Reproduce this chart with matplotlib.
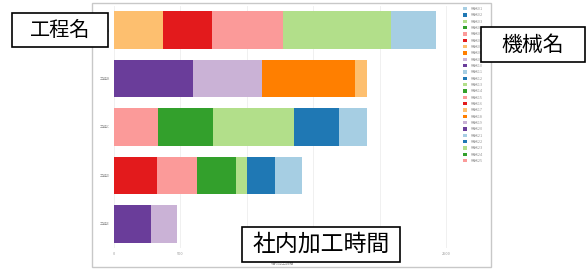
import matplotlib
matplotlib.use("Agg")
import matplotlib.pyplot as plt
from matplotlib.patches import Rectangle, Patch

plt.rcParams['font.family'] = ['Noto Sans CJK JP', 'DejaVu Sans']

# ---- data ----
processes = ['工程A', '工程B', '工程C', '工程D', '工程E']
machines = ['機械01', '機械02', '機械03', '機械04', '機械05', '機械06', '機械07',
            '機械08', '機械09', '機械10', '機械11', '機械12', '機械13', '機械14',
            '機械15', '機械16', '機械17', '機械18', '機械19', '機械20', '機械21',
            '機械22', '機械23', '機械24', '機械25']
palette = ['#a6cee3', '#1f78b4', '#b2df8a', '#33a02c', '#fb9a99',
           '#e31a1c', '#fdbf6f', '#ff7f00', '#cab2d6', '#6a3d9a']
proc_machines = [
    [0, 2, 4, 5, 6],
    [16, 17, 18, 19],
    [20, 21, 22, 23, 24],
    [10, 11, 12, 13, 14, 15],
    [8, 9],
]
proc_hours = [
    [339, 813, 535, 369, 369],
    [90, 700, 520, 595],
    [211, 339, 610, 414, 331],
    [203, 211, 83, 294, 301, 324],
    [196, 279],
]
xticks = [0, 500, 1000, 1500, 2000, 2500]
# tick labels hidden under the annotation box in the reference
xticklabels = ['0', '500', '', '', '', '2500']

W, H = 586, 269
fig = plt.figure(figsize=(W / 100, H / 100), dpi=100)

def fx(px):
    return px / W

def fy(py):
    return 1 - py / H

# embedded chart frame
fig.add_artist(Rectangle((fx(92), fy(267)), fx(491) - fx(92), fy(3) - fy(267),
                         transform=fig.transFigure, facecolor='white',
                         edgecolor='#c8c8c8', lw=1.0, zorder=0))

ax = fig.add_axes([fx(114), fy(248), fx(452) - fx(114), fy(6) - fy(248)])
ax.set_facecolor('white')
for s in ax.spines.values():
    s.set_visible(False)

for r, (ms, hs) in enumerate(zip(proc_machines, proc_hours)):
    pairs = sorted(zip(ms, hs), key=lambda p: -p[0])
    left = 0
    for m, h in pairs:
        ax.barh(r, h, left=left, height=0.78, color=palette[m % 10], lw=0, zorder=2)
        left += h

ax.set_ylim(4.5, -0.5)
ax.set_xlim(0, 2545)
ax.set_yticks(range(len(processes)))
ax.set_yticklabels(processes)
ax.set_xticks(xticks)
ax.set_xticklabels(xticklabels)
ax.tick_params(axis='both', labelsize=2.8, colors='#999999', length=0, pad=3)
ax.grid(axis='x', color='#eeeeee', lw=0.6, zorder=0)
ax.set_axisbelow(True)
ax.set_xlabel('社内加工時間', fontsize=2.8, color='#999999', labelpad=4)

handles = [Patch(facecolor=palette[i % 10], edgecolor='none') for i in range(len(machines))]
fig.legend(handles, machines, loc='upper left',
           bbox_to_anchor=(fx(463), fy(7)), bbox_transform=fig.transFigure,
           fontsize=2.8, frameon=False, labelspacing=0.6,
           handlelength=0.9, handleheight=0.9, handletextpad=1.2,
           borderpad=0, borderaxespad=0, labelcolor='#999999')

# annotation boxes
def box(x0, y0, x1, y1, text, size):
    fig.add_artist(Rectangle((fx(x0), fy(y1)), fx(x1) - fx(x0), fy(y0) - fy(y1),
                             transform=fig.transFigure, facecolor='white',
                             edgecolor='black', lw=1.2, zorder=10))
    fig.text(fx((x0 + x1) / 2), fy((y0 + y1) / 2), text, fontsize=size,
             ha='center', va='center', color='black', zorder=11)

box(12, 13, 108, 47, '工程名', 14.5)
box(481, 27, 585, 62, '機械名', 15)
box(242, 227, 400, 262, '社内加工時間', 16.5)

fig.savefig('out.png', dpi=100, facecolor='white')
